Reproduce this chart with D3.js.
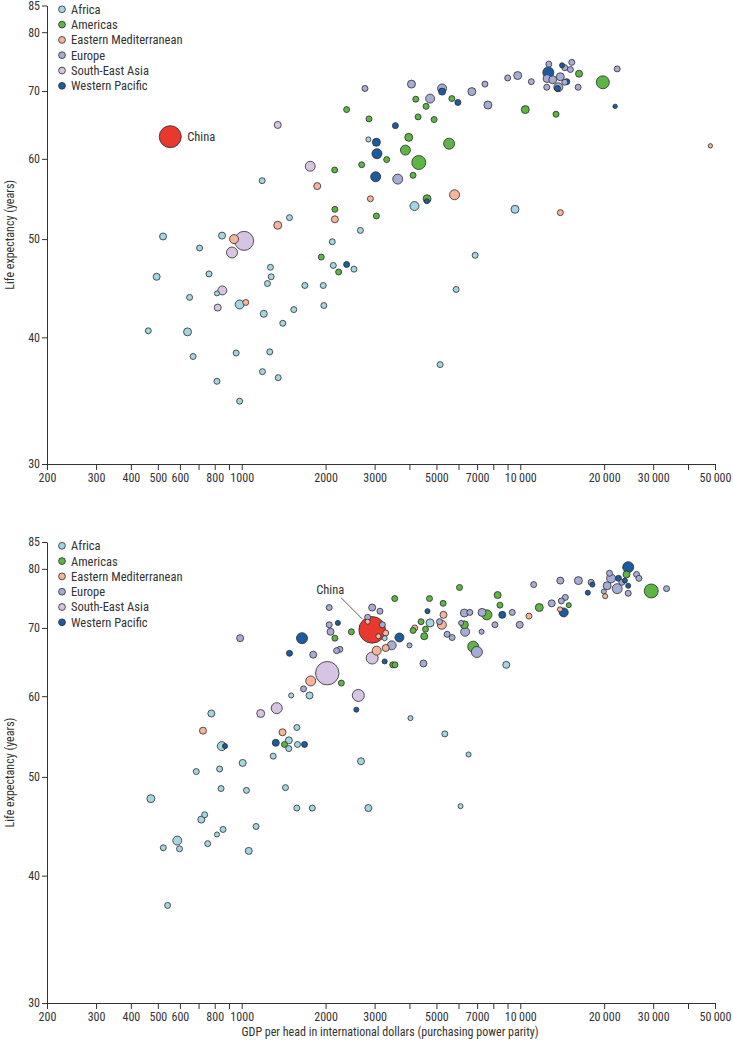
<!DOCTYPE html>
<html>
<head>
<meta charset="utf-8">
<script src="https://cdn.jsdelivr.net/npm/d3@7"></script>
<style>
  body { margin: 0; background: #fff; }
  svg text { font-family: "Liberation Sans Narrow", "Roboto Condensed", "Liberation Sans", sans-serif; fill: #333; }
  .axis path, .axis line { stroke: #333; stroke-width: 1; }
  .axis text { font-size: 12px; }
</style>
</head>
<body>
<svg id="chart" width="733" height="1048"></svg>
<script>
// regions (legend order)
const regionCodes = ["AF", "AM", "EM", "EU", "SEA", "WP"];
const regionNames = ["Africa", "Americas", "Eastern Mediterranean", "Europe", "South-East Asia", "Western Pacific"];
const regionColors = ["#a3d6e2", "#5db544", "#f6b49b", "#a7acd6", "#d7c4e2", "#1b5b9f"];
const chinaColor = "#e8392e";

const xTicks = [200, 300, 400, 500, 600, 700, 800, 900, 1000, 2000, 3000, 4000, 5000, 6000, 7000, 8000, 9000, 10000, 20000, 30000, 40000, 50000];
const xTickLabels = ["200", "300", "400", "500", "600", "", "800", "", "1000", "2000", "3000", "", "5000", "", "7000", "", "", "10\u2009000", "20\u2009000", "30\u2009000", "", "50\u2009000"];
const yTicks = [30, 40, 50, 60, 70, 80, 85];

// [GDP per head, life expectancy, region, population (millions)]
const earlyCountries = [
  [1347, 64.8, "SEA", 16], [1762, 59.0, "SEA", 73], [1184, 57.1, "AF", 6], [1867, 56.4, "EM", 16],
  [1484, 52.5, "AF", 6], [1347, 51.6, "EM", 30], [522, 50.3, "AF", 16], [850, 50.4, "AF", 16],
  [939, 50.0, "EM", 49], [1020, 49.8, "SEA", 500], [923, 48.5, "SEA", 102], [706, 49.0, "AF", 6],
  [1930, 48.0, "AM", 6], [1268, 46.9, "AF", 6], [495, 45.9, "AF", 16], [763, 46.2, "AF", 6],
  [1276, 45.9, "AF", 6], [1237, 45.2, "AF", 6], [1685, 45.0, "AF", 6], [1962, 45.0, "AF", 6],
  [852, 44.5, "SEA", 49], [815, 44.2, "AF", 1], [650, 43.8, "AF", 6], [820, 42.8, "SEA", 16],
  [983, 43.1, "AF", 49], [1034, 43.3, "EM", 6], [1200, 42.2, "AF", 16], [1538, 42.6, "AF", 6],
  [1972, 43.0, "AF", 6], [1404, 41.3, "AF", 6], [462, 40.6, "AF", 6], [639, 40.5, "AF", 30],
  [669, 38.3, "AF", 6], [955, 38.6, "AF", 6], [1261, 38.7, "AF", 6], [1187, 37.0, "AF", 6],
  [1352, 36.5, "AF", 6], [815, 36.2, "AF", 6], [983, 34.6, "AF", 6],
  [2770, 70.4, "EU", 6], [4068, 71.1, "EU", 30], [5239, 70.4, "EU", 49], [5239, 69.9, "WP", 16],
  [7466, 71.1, "EU", 6], [4215, 68.7, "AM", 6], [4745, 68.8, "EU", 49], [5680, 68.8, "AM", 6],
  [5970, 68.2, "WP", 6], [6700, 69.9, "EU", 30], [7652, 67.8, "EU", 30], [4590, 67.6, "AM", 6],
  [2380, 67.1, "AM", 6], [4296, 66.0, "AM", 6], [4905, 65.6, "AM", 6], [2863, 65.7, "AM", 6],
  [3562, 64.7, "WP", 6], [3978, 63.0, "AM", 30], [2849, 62.7, "AF", 1], [3044, 62.3, "WP", 30],
  [5553, 62.1, "AM", 102], [3870, 61.2, "AM", 73], [3058, 60.7, "WP", 73], [3314, 59.9, "AM", 6],
  [4321, 59.5, "AM", 215], [2696, 59.2, "AM", 6], [2156, 58.5, "AM", 6], [3026, 57.6, "WP", 73],
  [3631, 57.3, "EU", 73], [4122, 57.8, "AM", 6], [2897, 54.8, "EM", 6], [4628, 54.8, "AM", 30],
  [4620, 54.5, "WP", 1], [5808, 55.3, "EM", 73], [4171, 53.9, "AF", 49], [2160, 53.5, "AM", 6],
  [3044, 52.7, "AM", 6], [2160, 52.3, "EM", 16], [2667, 51.0, "AF", 6], [2114, 49.7, "AF", 6],
  [2132, 47.1, "AF", 6], [2380, 47.2, "WP", 6], [2529, 46.7, "AF", 6], [2228, 46.4, "AM", 6],
  [6887, 48.2, "AF", 6], [5886, 44.6, "AF", 6], [5154, 37.6, "AF", 6],
  [12660, 74.4, "EU", 6], [14122, 74.2, "WP", 1], [14442, 73.8, "EU", 6], [15306, 74.7, "EU", 6],
  [15130, 73.5, "EU", 6], [12609, 73.0, "WP", 102], [12474, 72.0, "EU", 30], [13076, 71.8, "EU", 30],
  [13924, 72.3, "EU", 30], [14684, 71.5, "WP", 6], [14442, 71.4, "EU", 6], [13696, 70.6, "EU", 49],
  [13600, 70.4, "WP", 6], [12444, 70.6, "EU", 6], [16128, 70.6, "EU", 6], [16250, 72.8, "AM", 16],
  [19784, 71.4, "AM", 173], [22280, 73.6, "EU", 6], [21900, 67.6, "WP", 0], [10954, 71.5, "EU", 6],
  [9789, 72.5, "EU", 30], [9009, 72.1, "EU", 6], [10424, 67.1, "AM", 30], [13436, 66.4, "AM", 6],
  [48120, 61.8, "EM", 0], [9572, 53.5, "AF", 30], [13924, 53.1, "EM", 6]
];
const earlyChina = [554, 63.1, 723];

const lateCountries = [
  [987, 68.4, "EU", 16], [1646, 68.4, "WP", 102], [1484, 66.1, "WP", 6], [1806, 65.9, "EU", 16],
  [2028, 63.2, "SEA", 843], [1769, 62.1, "EM", 73], [1667, 61.0, "EU", 6], [1505, 60.1, "AF", 1],
  [1752, 60.1, "AF", 16], [1336, 58.4, "SEA", 102], [1170, 57.7, "SEA", 30], [778, 57.7, "AF", 16],
  [726, 55.5, "EM", 16], [1401, 55.3, "EM", 16], [1577, 55.9, "AF", 6], [1476, 54.3, "AF", 16],
  [1325, 54.0, "WP", 16], [1424, 53.8, "AM", 6], [1586, 53.8, "AF", 6], [1680, 53.8, "WP", 6],
  [1476, 53.3, "AF", 6], [848, 53.6, "AF", 49], [871, 53.6, "WP", 1], [1297, 52.4, "AF", 6],
  [1008, 51.6, "AF", 16], [687, 50.6, "AF", 6], [833, 50.9, "AF", 6], [843, 48.7, "AF", 6],
  [1040, 48.5, "AF", 6], [1436, 48.8, "AF", 6], [472, 47.6, "AF", 30], [736, 45.9, "AF", 6],
  [716, 45.4, "AF", 16], [1577, 46.6, "AF", 6], [1792, 46.6, "AF", 6], [1126, 44.7, "AF", 6],
  [857, 44.4, "AF", 6], [815, 43.9, "AF", 1], [587, 43.3, "AF", 49], [523, 42.6, "AF", 6],
  [598, 42.5, "AF", 6], [755, 43.0, "AF", 6], [1060, 42.3, "AF", 16], [542, 37.4, "AF", 6],
  [2061, 73.3, "EU", 6], [2940, 73.3, "EU", 16], [3135, 72.7, "EU", 6], [3542, 74.8, "AM", 6],
  [2214, 70.8, "WP", 1], [2061, 70.5, "EU", 6], [2084, 69.4, "EU", 16], [2160, 68.4, "AM", 6],
  [2475, 69.4, "AM", 6], [2832, 71.7, "EU", 6], [2832, 71.0, "EM", 1], [3199, 70.5, "EU", 6],
  [3288, 69.2, "EM", 6], [3094, 68.7, "EM", 1], [3260, 68.4, "AF", 1], [3682, 68.5, "WP", 49],
  [3456, 67.3, "EU", 49], [3288, 66.9, "EM", 16], [3052, 66.5, "EM", 49], [2940, 65.4, "SEA", 135],
  [2251, 66.7, "EU", 6], [2191, 66.5, "EU", 6], [3260, 64.9, "WP", 1], [3484, 64.4, "AM", 6],
  [3550, 64.4, "AM", 6], [4001, 67.3, "EU", 1], [4492, 64.6, "EU", 16], [2278, 61.8, "AM", 6],
  [2622, 60.1, "SEA", 135], [2579, 58.2, "WP", 1],
  [6052, 76.7, "AM", 6], [4722, 74.8, "AM", 6], [5285, 74.0, "AM", 6], [4644, 72.7, "WP", 1],
  [5300, 72.1, "EM", 16], [4745, 70.8, "AF", 30], [5128, 71.0, "EU", 6], [5230, 70.5, "EM", 49],
  [4404, 71.0, "AM", 6], [4568, 69.8, "AM", 6], [4180, 70.0, "EM", 6], [4122, 69.6, "AM", 6],
  [4520, 68.7, "AM", 16], [5463, 69.0, "EU", 6], [5694, 68.5, "EU", 6], [6298, 72.4, "EU", 30],
  [6592, 72.5, "EU", 6], [6132, 70.8, "EU", 1], [6298, 70.5, "AM", 30], [6340, 69.4, "EU", 49],
  [7264, 69.4, "EU", 1], [6776, 67.1, "AM", 102], [6986, 66.3, "EU", 102], [7290, 72.5, "EU", 30],
  [7590, 72.1, "AM", 73], [8110, 70.5, "EU", 6], [8293, 75.4, "AM", 16], [8453, 73.7, "AM", 6],
  [8616, 72.1, "WP", 16], [9356, 72.5, "EU", 6], [9952, 70.5, "EU", 16], [10746, 71.9, "EM", 6],
  [11172, 77.2, "EU", 6], [11700, 73.3, "AM", 30], [8906, 64.4, "AF", 16],
  [24400, 80.3, "WP", 102], [24060, 79.0, "AM", 16], [20900, 79.2, "EU", 6], [21180, 78.3, "EU", 49],
  [22520, 78.3, "WP", 6], [22280, 76.5, "EU", 73], [20500, 77.0, "EU", 30], [23160, 77.6, "EU", 6],
  [23740, 77.9, "WP", 1], [24400, 77.0, "WP", 1], [26140, 79.0, "EU", 6], [26660, 78.3, "EU", 6],
  [24400, 75.7, "EU", 6], [19950, 76.0, "EU", 1], [20170, 75.2, "EM", 1], [29520, 76.1, "AM", 215],
  [33500, 76.5, "EU", 6], [17958, 77.6, "EU", 6], [18150, 77.2, "WP", 1], [17476, 75.8, "WP", 1],
  [16170, 77.9, "EU", 30], [13924, 77.9, "EU", 16], [14512, 75.0, "EU", 6], [14040, 74.4, "EU", 6],
  [12968, 74.0, "EU", 16], [14930, 73.7, "AM", 1], [13888, 73.0, "EM", 1], [14322, 72.5, "WP", 49],
  [4034, 57.1, "AF", 1], [5360, 55.1, "AF", 6], [6520, 52.6, "AF", 1], [2680, 51.8, "AF", 16],
  [2849, 46.6, "AF", 16], [6102, 46.8, "AF", 1]
];
const lateChina = [2940, 69.7, 1150];

const svg = d3.select("#chart");
const x = d3.scaleLog().domain([200, 50000]).range([47, 715]);
const r = d3.scaleSqrt().domain([0, 1300]).range([2.2, 14]);
const color = d3.scaleOrdinal().domain(regionCodes).range(regionColors);

function drawPanel({countries, china, yBottom, yTop, labelSide, showXTitle}) {
  const y = d3.scaleLog().domain([30, 85]).range([yBottom, yTop]);
  const g = svg.append("g");

  g.append("g")
    .attr("class", "axis")
    .attr("transform", `translate(0,${yBottom})`)
    .call(d3.axisBottom(x).tickValues(xTicks).tickSize(6).tickSizeOuter(0).tickPadding(3)
      .tickFormat((d, i) => xTickLabels[i]));

  g.append("g")
    .attr("class", "axis")
    .attr("transform", `translate(${x.range()[0]},0)`)
    .call(d3.axisLeft(y).tickValues(yTicks).tickSize(5).tickSizeOuter(0).tickPadding(2)
      .tickFormat(d3.format("d")));

  g.append("text")
    .attr("transform", `translate(10,${(yBottom + yTop) / 2}) rotate(-90)`)
    .attr("text-anchor", "middle")
    .attr("dominant-baseline", "central")
    .style("font-size", "12px")
    .text("Life expectancy (years)");

  if (showXTitle) {
    g.append("text")
      .attr("x", 390)
      .attr("y", yBottom + 33)
      .attr("text-anchor", "middle")
      .style("font-size", "12px")
      .text("GDP per head in international dollars (purchasing power parity)");
  }

  // legend
  const legend = g.append("g")
    .attr("transform", `translate(62,${y(85) + 3.8})`);
  regionNames.forEach((name, i) => {
    legend.append("circle")
      .attr("cx", 0).attr("cy", i * 15.3).attr("r", 3.4)
      .attr("fill", regionColors[i]).attr("stroke", "#2b2b2b").attr("stroke-width", 0.8);
    legend.append("text")
      .attr("x", 9).attr("y", i * 15.3)
      .attr("dominant-baseline", "central")
      .style("font-size", "12.5px")
      .text(name);
  });

  // bubbles, big ones underneath
  const pts = countries.map(d => ({gdp: d[0], life: d[1], fill: color(d[2]), pop: d[3]}));
  pts.push({gdp: china[0], life: china[1], fill: chinaColor, pop: china[2], china: true});
  pts.sort((a, b) => b.pop - a.pop);

  g.append("g").selectAll("circle")
    .data(pts)
    .enter().append("circle")
    .attr("cx", d => x(d.gdp))
    .attr("cy", d => y(d.life))
    .attr("r", d => r(d.pop))
    .attr("fill", d => d.fill)
    .attr("stroke", "#2b2b2b")
    .attr("stroke-width", 0.8);

  const cx = x(china[0]), cy = y(china[1]), cr = r(china[2]);
  if (labelSide === "right") {
    g.append("text")
      .attr("x", cx + cr + 6).attr("y", cy)
      .attr("dominant-baseline", "central")
      .style("font-size", "12.5px")
      .text("China");
  } else {
    g.append("line")
      .attr("x1", cx - 31).attr("y1", cy - 32)
      .attr("x2", cx - 10).attr("y2", cy - 11)
      .attr("stroke", "#333").attr("stroke-width", 0.8);
    g.append("text")
      .attr("x", cx - 42).attr("y", cy - 40)
      .attr("text-anchor", "middle")
      .attr("dominant-baseline", "central")
      .style("font-size", "12.5px")
      .text("China");
  }
}

drawPanel({countries: earlyCountries, china: earlyChina, yBottom: 464, yTop: 5.5, labelSide: "right", showXTitle: false});
drawPanel({countries: lateCountries, china: lateChina, yBottom: 1003, yTop: 542, labelSide: "above", showXTitle: true});
</script>
</body>
</html>
